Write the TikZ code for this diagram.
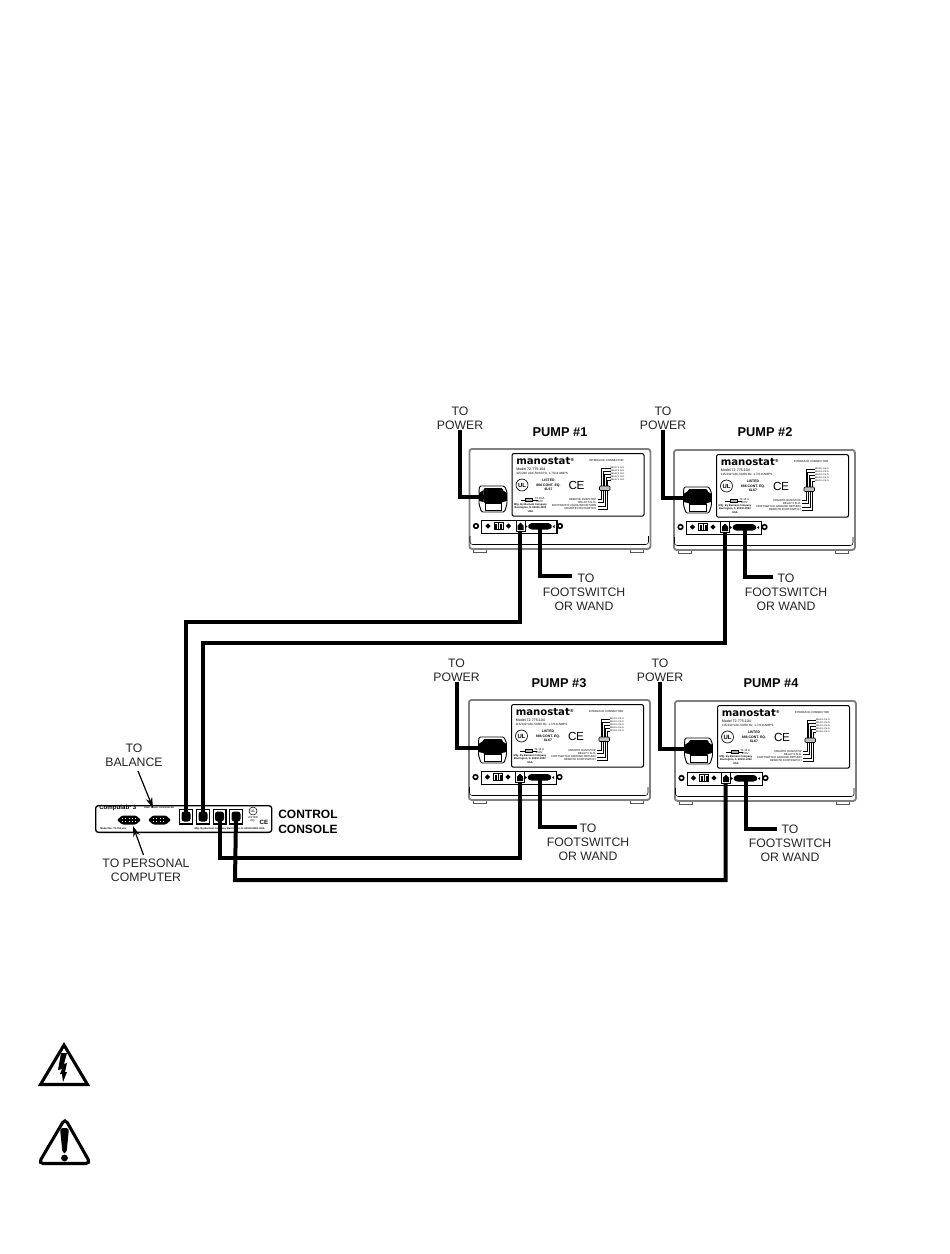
\documentclass[tikz,border=0pt]{standalone}
\usepackage{fontspec}
\setmainfont{Liberation Sans}
\newfontfamily\brandfont{DejaVu Sans}
\usetikzlibrary{arrows.meta,calc}
\newcommand{\tinytext}[1]{\fontsize{2.1}{2.5}\selectfont #1}
\tikzset{
  x=0.75pt,y=-0.75pt,
  cable/.style={line width=3pt,miter limit=10},
  lbl/.style={font=\fontsize{9.2}{10.6}\selectfont,align=center,text=black!85,inner sep=0pt},
  title/.style={font=\bfseries\fontsize{9.6}{11}\selectfont,align=center,inner sep=0pt},
  small/.style={font=\tinytext{},align=left,inner sep=0pt,anchor=west},
  smallc/.style={font=\tinytext{},align=center,inner sep=0pt},
  arrowline/.style={line width=0.9pt,-{Stealth[length=8pt,width=5pt]}}
}
% #1 prefix, #2 x origin, #3 y origin
\newcommand{\pumpunit}[3]{%
\begin{scope}[shift={(#2,#3)}]
  % feet
  \draw[line width=0.5pt,black!65] (5,100) rectangle (18,104);
  \draw[line width=0.5pt,black!65] (162,100) rectangle (175,104);
  % housing
  \node[draw=black!50,line width=1.4pt,fill=white,rounded corners=2pt,minimum width=135.75pt,minimum height=75pt,inner sep=0pt,anchor=north west] (#1box) at (0,0) {};
  \draw[line width=0.4pt,rounded corners=2pt] (1.5,88)--(1.5,96.5)--(180,96.5)--(180,88);
  % label plate
  \node[draw,line width=0.8pt,fill=white,rounded corners=1.5pt,minimum width=99pt,minimum height=47pt,inner sep=0pt,anchor=north west] (#1plate) at (43,5) {};
  \node[inner sep=0pt,anchor=west,font=\brandfont\bfseries\fontsize{7.6}{9}\selectfont] (#1brand) at (47.5,13) {manostat\raisebox{2pt}{\fontsize{3}{3}\selectfont\textregistered}};
  \node[small,font=\fontsize{2.7}{3}\selectfont] (#1m1) at (47.5,21) {Model 72-775-104};
  \node[small,font=\fontsize{2.3}{3}\selectfont] (#1m2) at (47.5,25.5) {115/230 VAC,50/60 Hz, 1.7/0.8 AMPS};
  \node[draw,circle,line width=0.5pt,minimum size=9pt,inner sep=0pt,font=\bfseries\fontsize{4.5}{5}\selectfont] (#1ul) at (53.5,37) {UL};
  \node[smallc,font=\bfseries\fontsize{2.6}{3.2}\selectfont] (#1list) at (80,37) {LISTED\\886 CONT. EQ.\\6L67};
  \node[inner sep=0pt,font=\fontsize{8.8}{10}\selectfont] (#1ce) at (108,37) {C\kern-0.3pt E};
  \draw[line width=0.5pt] (52,52)--(57,52) (64,52)--(69,52);
  \draw[line width=0.5pt,fill=black!30] (57,50.5) rectangle (64,53.5);
  \node[smallc,anchor=west] (#1fuse) at (66,52) {T3.15 A\\250V};
  \node[smallc,font=\bfseries\fontsize{1.95}{2.6}\selectfont] (#1mfg) at (62,60) {Mfg. By Barnant Company\\Barrington, IL 60010-2392\\USA};
  \node[smallc] (#1if) at (138,13) {INTERFACE CONNECTOR};
  % interface wiring
  \foreach \yy in {20,23,26,29,32}{
    \node[smallc,font=\fontsize{1.7}{2}\selectfont] at (149,\yy) {RELAY 4 N.O.};
  }
  \draw[line width=0.45pt] (142,20)--(133,20)--(133,38)
    (142,23)--(134.5,23)--(134.5,38)
    (142,26)--(136,26)--(136,38)
    (142,29)--(137.5,29)--(137.5,38)
    (142,32)--(139,32)--(139,38);
  \draw[line width=0.4pt,fill=black!25,rounded corners=0.8pt] (131,38) rectangle (141.5,42.5);
  \draw[line width=0.5pt] (133,42.5)--(133,51)--(129,51)
    (135,42.5)--(135,54.5)--(129,54.5)
    (137,42.5)--(137,58)--(129,58)
    (139,42.5)--(139,61)--(129,61);
  \node[smallc,anchor=east] at (128,51) {REMOTE RUN/STOP};
  \node[smallc,anchor=east] at (128,54.5) {RELAY 5 N.O.};
  \node[smallc,anchor=east] at (128,58) {FOOTSWITCH GROUND RETURN};
  \node[smallc,anchor=east] at (128,61) {REMOTE FOOTSWITCH};
  % power inlet
  \draw[fill=white,line width=0.7pt,rounded corners=1pt] (11,38)--(36,38)--(38.5,44)--(38.5,56)--(36,64)--(13,64)--(10.5,56)--(10.5,44)--cycle;
  \fill[rounded corners=1pt] (15,40) rectangle (34.5,55);
  \draw[fill=white,line width=0.6pt] (16.5,55) rectangle (33,62);
  \fill (10.5,45) -- (15,42) -- (15,54) -- (10.5,53) -- cycle;
  \fill (38.5,45) -- (34,42) -- (34,54) -- (38.5,53) -- cycle;
  \coordinate (#1inlet) at (15,49);
  % connector strip
  \node[draw,line width=0.9pt,fill=white,minimum width=56.5pt,minimum height=9.5pt,inner sep=0pt,anchor=north west] (#1strip) at (12.5,72) {};
  \foreach \sx in {7.5,91.5}{\draw[line width=1.2pt,fill=white] (\sx,78) circle (2.3);}
  \foreach \sx in {19.5,40}{\draw[line width=1.3pt,fill=white] (\sx,78) circle (1.3);}
  \draw[line width=0.6pt] (25.5,74.5) rectangle (34.5,81.5) (30,74.5)--(30,81.5);
  \fill (31.5,75.5) rectangle (33.5,80.5);
  \fill (26.5,75.5) rectangle (28.5,80.5);
  \draw[line width=0.7pt,fill=white] (47.5,72.5)rectangle(56.5,83);
  \fill (49,77.5) -- (52,74.5) -- (55,77.5) -- (55,82) -- (49,82) -- cycle;
  \coordinate (#1rj) at (51.5,83);
  \fill[rounded corners=1pt] (62,75) -- (81,75) -- (84,78.5) -- (81,81.5) -- (62,81.5) -- (59,78.5) -- cycle;
  \fill (57,77)--(59,78.5)--(57,80)--cycle (86,77)--(84,78.5)--(86,80)--cycle;
  \coordinate (#1sub) at (71.5,81);
\end{scope}
}
\begin{document}
\begin{tikzpicture}
\useasboundingbox (0,0) rectangle (950,1254);
\fill[white] (0,0) rectangle (950,1254);

\pumpunit{pa}{468.5}{448}
\pumpunit{pb}{673}{449}
\pumpunit{pc}{468}{699}
\pumpunit{pd}{674}{700}

\node[title] (ta) at (560,432) {PUMP \#1};
\node[title] (tb) at (765,432) {PUMP \#2};
\node[title] (tc) at (559,683) {PUMP \#3};
\node[title] (td) at (771,683) {PUMP \#4};

% power labels
\node[lbl] (powa) at (460,418) {TO\\POWER};
\node[lbl] (powb) at (663,418) {TO\\POWER};
\node[lbl] (powc) at (456.5,670) {TO\\POWER};
\node[lbl] (powd) at (660,670) {TO\\POWER};
\draw[cable] (powa.south) |- (painlet);
\draw[cable] (powb.south) |- (pbinlet);
\draw[cable] (powc.south) |- (pcinlet);
\draw[cable] (powd.south) |- (pdinlet);

% footswitch labels
\node[lbl] (foota) at (584,592) {\hspace*{3pt}TO\\FOOTSWITCH\\OR WAND};
\node[lbl] (footb) at (786,592) {TO\\FOOTSWITCH\\OR WAND};
\node[lbl] (footc) at (588,842) {TO\\FOOTSWITCH\\OR WAND};
\node[lbl] (footd) at (790,843) {TO\\FOOTSWITCH\\OR WAND};
\coordinate (fa) at (572,576);
\coordinate (fb) at (773,577);
\coordinate (fc) at (577,827);
\coordinate (fd) at (777,829);
\draw[cable] (pasub) |- (fa);
\draw[cable] (pbsub) |- (fb);
\draw[cable] (pcsub) |- (fc);
\draw[cable] (pdsub) |- (fd);

% control console
\node[draw,line width=1pt,fill=white,rounded corners=2pt,minimum width=132pt,minimum height=20pt,inner sep=0pt,anchor=north west] (console) at (95,805) {};
\node[inner sep=0pt,anchor=west,font=\bfseries\fontsize{4.6}{6}\selectfont] (clab) at (99,808) {Compulab\raisebox{1.5pt}{\fontsize{2}{2}\selectfont\textregistered} 3};
\node[smallc,font=\bfseries\fontsize{1.6}{2}\selectfont] (ctop) at (159,808) {PUMP SERIAL CONTROLLER};
\node[small,font=\bfseries\fontsize{1.9}{2.5}\selectfont] (cmodel) at (100,829) {Model No. 72-751-xxx};
\node[smallc,anchor=east,font=\bfseries\fontsize{1.9}{2.5}\selectfont] (cmfg) at (265,829) {Mfg. By Barnant Company Barrington, IL 60010-2392, USA};
% d-subs
\fill[rounded corners=1pt] (117,820)--(122,815.5)--(136,815.5)--(141,820)--(136,824.5)--(122,824.5)--cycle;
\fill[rounded corners=1pt] (148,820)--(153,815.5)--(166,815.5)--(171,820)--(166,824.5)--(153,824.5)--cycle;
\draw[white,line width=0.5pt,dotted] (122,818.5)--(136,818.5) (122,821.5)--(136,821.5) (153,818.5)--(166,818.5) (153,821.5)--(166,821.5);
\coordinate (dsa) at (133,826);
\coordinate (dsb) at (153,808);
% rj ports
\foreach \nm/\cx in {cpa/186,cpb/203,cpc/219.5,cpd/236}{
  \node[draw,line width=1pt,fill=white,minimum width=9.5pt,minimum height=11pt,inner sep=0pt] (\nm) at (\cx,816.5) {};
  \fill[rounded corners=2pt] (\cx-4.5,811.5) rectangle (\cx+4.5,821.5);
}
\node[draw,circle,line width=0.4pt,minimum size=6pt,inner sep=0pt,font=\fontsize{2.8}{3}\selectfont] (cul) at (253,811) {UL};
\node[smallc] (cl) at (253,819) {LISTED\\EQ.};
\node[inner sep=0pt,font=\bfseries\fontsize{4.6}{6}\selectfont] (cce) at (264,822) {CE};
\node[title,align=left,anchor=west,font=\bfseries\fontsize{9}{11}\selectfont] (ctitle) at (278,822) {CONTROL\\CONSOLE};

% console labels
\node[lbl] (bal) at (134,755) {TO\\BALANCE};
\node[lbl] (pcl) at (146,870) {TO PERSONAL\\COMPUTER};
\coordinate (bals) at (138,771);
\coordinate (pcs) at (143.5,855);
\draw[arrowline] (bals) -- (dsb);
\draw[arrowline] (pcs) -- (dsa);

% cables
\coordinate (r1) at (186,622); \coordinate (r2) at (203,643);
\coordinate (r3) at (219.5,858); \coordinate (r4) at (235,880);
\draw[cable] (parj) |- (r1) -- (cpa.center);
\draw[cable] (pbrj) |- (r2) -- (cpb.center);
\draw[cable] (pcrj) |- (r3) -- (cpc.center);
\draw[cable] (pdrj) |- (r4) -- (cpd.center);

% warning symbols
\draw[line width=2.3pt,line join=miter] (64,1045) -- (87.5,1084.5) -- (40.5,1084.5) -- cycle;
\fill (67,1053)--(61,1053)--(58,1070)--(62,1069)--(60,1074)--(62,1074)--(63,1082)--(67,1072)--(65,1072)--(67,1063)--(64,1064)--cycle;
\draw[line width=2.3pt,rounded corners=3.5pt] (65,1118.5) -- (90.5,1163.5) -- (38.5,1163.5) -- cycle;
\fill[rounded corners=2pt] (60,1128) -- (69,1128) -- (66.5,1153) -- (62.5,1153) -- cycle;
\fill (64.5,1158) circle (3.4);
\end{tikzpicture}
\end{document}
